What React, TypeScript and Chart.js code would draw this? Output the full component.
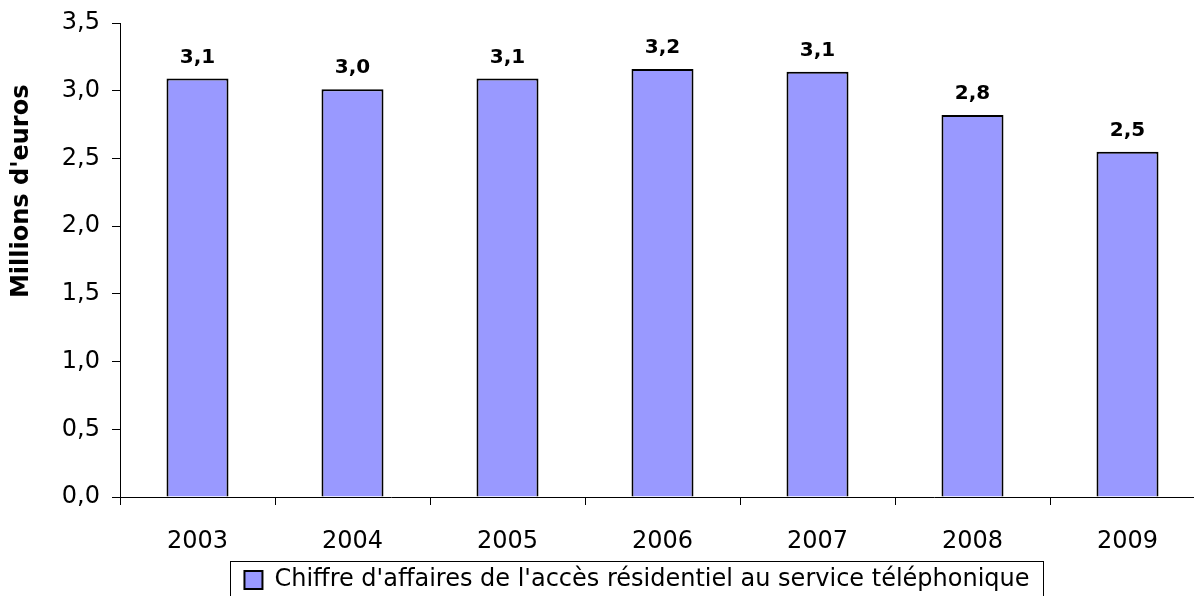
import React, { useEffect, useRef } from 'react';
import { Chart, registerables } from 'chart.js';

Chart.register(...registerables);

const categories: string[] = ['2003', '2004', '2005', '2006', '2007', '2008', '2009'];
const revenue: number[] = [3.09, 3.01, 3.09, 3.16, 3.14, 2.82, 2.55];
const yMin = 0;
const yMax = 3.5;
const yStep = 0.5;
const seriesLabel = "Chiffre d'affaires de l'accès résidentiel au service téléphonique";
const yTitle = "Millions d'euros";

const FONT = "'DejaVu Sans', 'Liberation Sans', sans-serif";
const fmt = (v: number) => v.toFixed(1).replace('.', ',');

const valueLabels = {
  id: 'valueLabels',
  afterDatasetsDraw(chart: any) {
    const ctx = chart.ctx;
    const meta = chart.getDatasetMeta(0);
    const data = chart.data.datasets[0].data as number[];
    ctx.save();
    ctx.font = `bold 20px ${FONT}`;
    ctx.fillStyle = '#000';
    ctx.textAlign = 'center';
    ctx.textBaseline = 'alphabetic';
    meta.data.forEach((bar: any, i: number) => {
      ctx.fillText(fmt(data[i]), bar.x, bar.y - 16);
    });
    ctx.restore();
  },
};

// y-axis title, placed as in the reference (upper part of the axis)
const axisTitle = {
  id: 'axisTitle',
  afterDraw(chart: any) {
    const ctx = chart.ctx;
    const area = chart.chartArea;
    ctx.save();
    ctx.font = `bold 24px ${FONT}`;
    ctx.fillStyle = '#000';
    ctx.textAlign = 'center';
    ctx.textBaseline = 'middle';
    ctx.translate(22, area.top + (area.bottom - area.top) * 0.355);
    ctx.rotate(-Math.PI / 2);
    ctx.fillText(yTitle, 0, 0);
    ctx.restore();
  },
};

const legendFrame = {
  id: 'legendFrame',
  afterDraw(chart: any) {
    const lg = chart.legend;
    const hb = lg && lg.legendHitBoxes && lg.legendHitBoxes[0];
    if (!hb) return;
    const ctx = chart.ctx;
    ctx.save();
    ctx.strokeStyle = '#000';
    ctx.lineWidth = 1;
    ctx.strokeRect(Math.round(hb.left - 14) + 0.5, Math.round(hb.top - 7) + 0.5, Math.round(hb.width + 28), 60);
    ctx.restore();
  },
};

export default function App() {
  const ref = useRef<HTMLCanvasElement | null>(null);

  useEffect(() => {
    if (!ref.current) return;
    const chart = new Chart(ref.current, {
      type: 'bar',
      data: {
        labels: categories,
        datasets: [
          {
            label: seriesLabel,
            data: revenue,
            backgroundColor: '#9999FF',
            borderColor: '#000000',
            borderWidth: 2,
            barPercentage: 0.4,
            categoryPercentage: 1.0,
          },
        ],
      },
      options: {
        responsive: false,
        animation: false,
        devicePixelRatio: 1,
        layout: { padding: { top: 23, left: 0, right: 0, bottom: 8 } },
        plugins: {
          legend: {
            display: true,
            position: 'bottom',
            labels: {
              boxWidth: 18,
              boxHeight: 18,
              padding: 10,
              color: '#000',
              font: { family: FONT, size: 24 },
            },
          },
          tooltip: { enabled: false },
        },
        scales: {
          x: {
            grid: {
              display: true,
              drawOnChartArea: false,
              drawTicks: true,
              tickLength: 8,
              color: '#000',
              offset: true,
            },
            border: { display: true, color: '#000', width: 1 },
            ticks: {
              color: '#000',
              padding: 22,
              font: { family: FONT, size: 24 },
              maxRotation: 0,
            },
            afterFit: (s: any) => {
              s.height = 61;
              s.paddingLeft = 0;
              s.paddingRight = 0;
            },
          },
          y: {
            min: yMin,
            max: yMax,
            grid: {
              display: true,
              drawOnChartArea: false,
              drawTicks: true,
              tickLength: 8,
              color: '#000',
            },
            border: { display: true, color: '#000', width: 1 },
            ticks: {
              stepSize: yStep,
              color: '#000',
              padding: 12,
              font: { family: FONT, size: 24 },
              callback: (v: any) => fmt(Number(v)),
            },
            title: { display: false },
            afterFit: (s: any) => {
              s.width = 120;
              s.paddingTop = 0;
              s.paddingBottom = 0;
            },
          },
          yRight: {
            type: 'linear',
            position: 'right',
            display: true,
            grid: { display: false, drawTicks: false },
            border: { display: false },
            ticks: { display: false },
            afterFit: (s: any) => {
              s.width = 69;
              s.paddingTop = 0;
              s.paddingBottom = 0;
            },
          },
        },
      } as any,
      plugins: [valueLabels, axisTitle, legendFrame],
    });
    return () => chart.destroy();
  }, []);

  return (
    <div
      style={{
        position: 'fixed',
        left: 0,
        top: 0,
        width: 1194,
        height: 596,
        overflow: 'hidden',
        background: '#fff',
      }}
    >
      <canvas ref={ref} width={1274} height={610} style={{ display: 'block' }} />
    </div>
  );
}
